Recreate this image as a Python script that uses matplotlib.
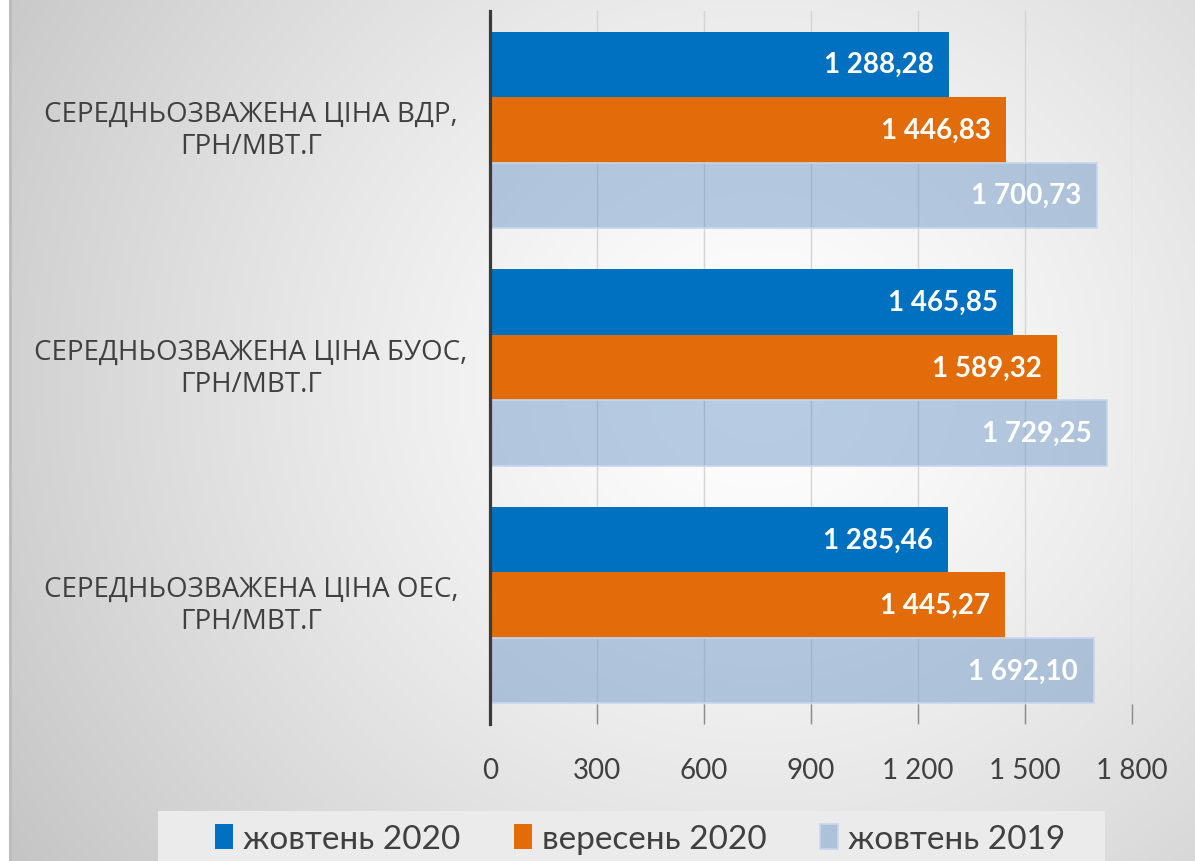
import numpy as np
import matplotlib
matplotlib.use('Agg')
import matplotlib.pyplot as plt
from matplotlib.patches import Rectangle
from matplotlib.transforms import blended_transform_factory

categories = ['СЕРЕДНЬОЗВАЖЕНА ЦІНА ВДР,\nГРН/МВТ.Г',
              'СЕРЕДНЬОЗВАЖЕНА ЦІНА БУОС,\nГРН/МВТ.Г',
              'СЕРЕДНЬОЗВАЖЕНА ЦІНА ОЕС,\nГРН/МВТ.Г']
series_names = ['жовтень 2020', 'вересень 2020', 'жовтень 2019']
oct_2020 = [1288.28, 1465.85, 1285.46]
sep_2020 = [1446.83, 1589.32, 1445.27]
oct_2019 = [1700.73, 1729.25, 1692.10]
x_ticks = [0, 300, 600, 900, 1200, 1500, 1800]
x_tick_labels = ['0', '300', '600', '900', '1 200', '1 500', '1 800']


def fmt(v):
    # thousands separated by a space, decimal comma
    s = f'{v:,.2f}'
    return s.replace(',', ' ').replace('.', ',')


W, H = 1195, 862
fig = plt.figure(figsize=(W / 100, H / 100), dpi=100)

# radial grey background of the chart area
bg = fig.add_axes([0, 0, 1, 1], zorder=-10)
yy, xx = np.mgrid[0:H, 0:W]
d = np.hypot(xx - 760, (yy - 380) * 1.05)
v = 255 - 58 * np.clip(d / 900, 0, 1) ** 1.3
img = np.dstack([v, v, v]) / 255.0
img[:, :9] = 1.0
img[:, 9:12] = 0.74
bg.imshow(img, aspect='auto', interpolation='bilinear')
bg.axis('off')

# legend panel
fig.patches.append(Rectangle((158 / W, 0), 947 / W, 50 / H, transform=fig.transFigure,
                             facecolor='#ebebeb', edgecolor='none', zorder=-5))

ax = fig.add_axes([490 / W, 137 / H, 642 / W, 713 / H])
ax.patch.set_alpha(0)

h = 0.2755
y = np.arange(len(categories))
b1 = ax.barh(y - h, oct_2020, height=h, color='#0070c0', label=series_names[0], zorder=2)
b2 = ax.barh(y, sep_2020, height=h, color='#e26c0a', label=series_names[1], zorder=2)
b3 = ax.barh(y + h, oct_2019, height=h, color=(0.42, 0.585, 0.78, 0.48),
             edgecolor=(0.78, 0.84, 0.93), linewidth=1.2, label=series_names[2], zorder=2)

for bars, vals in [(b1, oct_2020), (b2, sep_2020), (b3, oct_2019)]:
    for bar, val in zip(bars, vals):
        ax.annotate(fmt(val), (val, bar.get_y() + bar.get_height() / 2),
                    xytext=(-11, 0), textcoords='offset points', ha='right', va='center',
                    color='white', fontsize=20, fontweight='bold', family=['Lato', 'DejaVu Sans'])

ax.set_xlim(0, 1800)
ax.set_ylim(2.5, -0.5)
ax.set_xticks(x_ticks)
ax.set_xticklabels(x_tick_labels, family=['Lato', 'DejaVu Sans'], fontsize=20, color='#404040')
ax.tick_params(axis='x', direction='in', length=14.5, width=1, color='#8c8c8c', pad=24)
ax.set_yticks([])
ax.grid(axis='x', color='#d4d4d4', linewidth=1, zorder=0)
ax.set_axisbelow(True)
for side in ['top', 'right', 'bottom']:
    ax.spines[side].set_visible(False)
ax.spines['left'].set_color('#3a3a3a')
ax.spines['left'].set_linewidth(2.3)

# category names centred in the left margin
trans = blended_transform_factory(fig.transFigure, ax.transData)
for i, name in enumerate(categories):
    ax.text(251 / W, i, name, transform=trans, ha='center', va='center', multialignment='center',
            fontsize=20, color='#404040', family=['Open Sans', 'DejaVu Sans'], linespacing=1.2)

fig.legend(handles=[b1, b2, b3], labels=series_names, loc='center', bbox_to_anchor=(640 / W, 22 / H),
           ncol=3, frameon=False, fontsize=24, handlelength=0.55, handleheight=0.75,
           handletextpad=0.3, columnspacing=1.6, labelcolor='#404040',
           prop={'family': ['Lato', 'DejaVu Sans'], 'size': 24})

fig.savefig('out.png', dpi=100)
